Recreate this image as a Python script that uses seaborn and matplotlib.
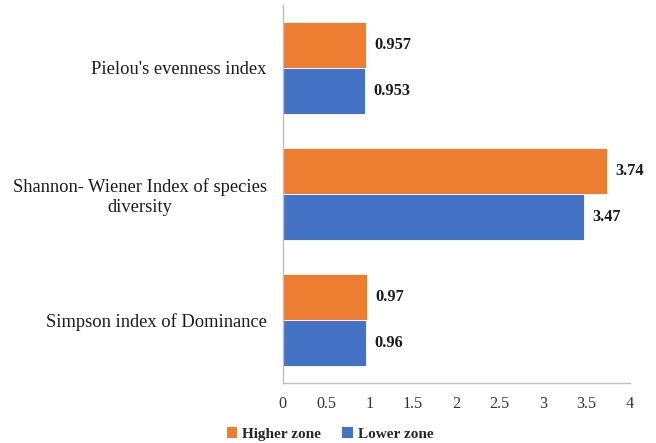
import matplotlib
matplotlib.use("Agg")
import matplotlib.pyplot as plt
import seaborn as sns
import pandas as pd
from matplotlib.patches import Patch

# Diversity indices for the two altitudinal zones
indices = [
    "Pielou's evenness index",
    "Shannon- Wiener Index of species\ndiversity",
    "Simpson index of Dominance",
]
zones = ["Higher zone", "Lower zone"]
higher_zone = [0.957, 3.74, 0.97]
lower_zone = [0.953, 3.47, 0.96]
value_labels = {
    "Higher zone": ["0.957", "3.74", "0.97"],
    "Lower zone": ["0.953", "3.47", "0.96"],
}
x_ticks = [0, 0.5, 1, 1.5, 2, 2.5, 3, 3.5, 4]
x_tick_labels = ["0", "0.5", "1", "1.5", "2", "2.5", "3", "3.5", "4"]

colors = {"Higher zone": "#ED7D31", "Lower zone": "#4472C4"}

df = pd.DataFrame({
    "Index": indices * 2,
    "Zone": [zones[0]] * 3 + [zones[1]] * 3,
    "Value": higher_zone + lower_zone,
})

sns.set_style("white")
plt.rcParams["font.family"] = ["Liberation Serif", "DejaVu Serif"]

fig = plt.figure(figsize=(6.56, 4.43), dpi=100)
ax = fig.add_axes([0.431, 0.135, 0.529, 0.854])

sns.barplot(
    data=df, y="Index", x="Value", hue="Zone", order=indices,
    hue_order=zones, palette=colors, orient="h", width=0.73, gap=0,
    saturation=1, edgecolor="white", linewidth=0.6, legend=False, ax=ax,
)

# Value labels at the end of each bar
for container, zone in zip(ax.containers, zones):
    ax.bar_label(container, labels=value_labels[zone], padding=6,
                 fontsize=11.8, fontweight="bold", color="#1a1a1a")

ax.set_xlim(0, 4)
ax.set_xticks(x_ticks)
ax.set_xticklabels(x_tick_labels, fontsize=11.6, color="#333333")
ax.set_xlabel("")
ax.set_ylabel("")
ax.tick_params(axis="x", length=0, pad=9.5)
ax.tick_params(axis="y", length=0, pad=11.5, labelsize=13.3)
for lbl in ax.get_yticklabels():
    lbl.set_multialignment("center")
    lbl.set_color("#1a1a1a")

for side in ["top", "right"]:
    ax.spines[side].set_visible(False)
for side in ["left", "bottom"]:
    ax.spines[side].set_color("#BFBFBF")
    ax.spines[side].set_linewidth(1.0)
ax.grid(False)

handles = [Patch(facecolor=colors[z], edgecolor="none") for z in zones]
fig.legend(handles, zones, loc="center", bbox_to_anchor=(0.503, 1 - 434 / 443),
           ncol=2, frameon=False, handlelength=0.7, handleheight=0.7,
           handletextpad=0.3, columnspacing=1.4,
           prop={"weight": "bold", "size": 11, "family": "Liberation Serif"})

fig.savefig("out.png", dpi=100)
